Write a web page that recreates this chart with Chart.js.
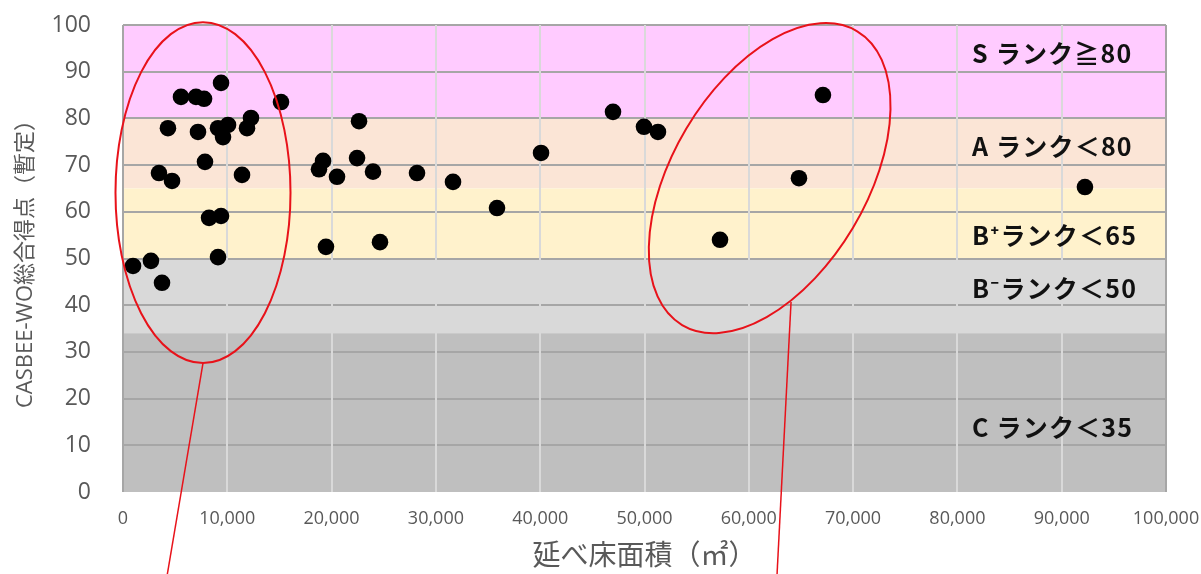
<!DOCTYPE html>
<html>
<head>
<meta charset="utf-8">
<script src="https://cdn.jsdelivr.net/npm/chart.js@4/dist/chart.umd.min.js"></script>
<style>
html,body{margin:0;padding:0;background:#fff;}
#wrap{width:1201px;height:574px;position:relative;}
</style>
</head>
<body>
<div id="wrap"><canvas id="c"></canvas></div>
<script>
// ---- data ----
const floorArea = [9400, 5560, 7000, 7770, 15150, 4310, 7190, 9110, 10070, 9590, 12270, 11890, 7860, 3450, 4700, 11410, 8250, 9400, 9110, 960, 2680, 3740,
  22630, 19180, 18790, 20520, 22440, 23970, 28190, 31640, 19460, 24640, 35860, 40080, 46980, 49950, 51290,
  67110, 64810, 57240, 92230];
const totalScore = [87.6, 84.6, 84.6, 84.2, 83.5, 77.9, 77.1, 77.9, 78.6, 76.0, 80.1, 77.9, 70.7, 68.3, 66.6, 67.9, 58.7, 59.1, 50.3, 48.4, 49.5, 44.8,
  79.4, 70.9, 69.1, 67.5, 71.5, 68.6, 68.3, 66.4, 52.5, 53.5, 60.8, 72.6, 81.4, 78.2, 77.1,
  85.0, 67.2, 54.0, 65.3];
const xTickValues = [0, 10000, 20000, 30000, 40000, 50000, 60000, 70000, 80000, 90000, 100000];
const yTickValues = [0, 10, 20, 30, 40, 50, 60, 70, 80, 90, 100];
const rankLabels = ['S ランク≧80', 'A ランク＜80', 'B⁺ランク＜65', 'B⁻ランク＜50', 'C ランク＜35'];
const rankLower = [80, 65, 50, 34, 0];
const rankUpper = [100, 80, 65, 50, 34];
const xTitle = '延べ床面積（㎡）';
const yTitle = 'CASBEE-WO総合得点（暫定）';

// ---- styles / annotation placement (not data) ----
const rankColors = ['#FFCBFF', '#FBE5D6', '#FFF2CC', '#D9D9D9', '#BFBFBF'];
const rankLabelPos = [[81400, 94.0], [81400, 73.9], [81400, 55.0], [81400, 43.6], [81400, 13.9]];
const circleA = {cx: 7670, cy: 64.1, rx: 8390, ry: 36.5};
const circleBpx = {cx: 62000, cy: 67.2, a: 171, b: 97, rot: -59.2};
const leaders = [[7670, 27.6, 4220, -18], [64050, 40.7, 62700, -18]];

const bandPlugin = {
  id: 'bands',
  beforeDraw(chart) {
    const {ctx, chartArea: a, scales: {y}} = chart;
    ctx.save();
    for (let i = 0; i < rankLower.length; i++) {
      const top = y.getPixelForValue(rankUpper[i]);
      const bot = y.getPixelForValue(rankLower[i]);
      ctx.fillStyle = rankColors[i];
      ctx.fillRect(a.left, top, a.right - a.left, bot - top);
    }
    ctx.restore();
  },
  beforeDatasetsDraw(chart) {
    const {ctx, scales: {x, y}} = chart;
    ctx.save();
    ctx.fillStyle = '#111';
    ctx.font = 'bold 25px "Noto Sans CJK JP", "Noto Sans", sans-serif';
    ctx.textBaseline = 'middle';
    ctx.textAlign = 'left';
    try { ctx.letterSpacing = '1.2px'; } catch (e) {}
    for (let i = 0; i < rankLabels.length; i++) {
      ctx.fillText(rankLabels[i], x.getPixelForValue(rankLabelPos[i][0]), y.getPixelForValue(rankLabelPos[i][1]));
    }
    ctx.restore();
  },
  afterDraw(chart) {
    const {ctx, scales: {x, y}} = chart;
    ctx.save();
    ctx.strokeStyle = '#E8121A';
    ctx.lineWidth = 2;
    const c1x = x.getPixelForValue(circleA.cx), c1y = y.getPixelForValue(circleA.cy);
    const r1x = x.getPixelForValue(circleA.cx + circleA.rx) - c1x;
    const r1y = c1y - y.getPixelForValue(circleA.cy + circleA.ry);
    ctx.beginPath();
    ctx.ellipse(c1x, c1y, r1x, r1y, 0, 0, Math.PI * 2);
    ctx.stroke();
    const c2x = x.getPixelForValue(circleBpx.cx), c2y = y.getPixelForValue(circleBpx.cy);
    ctx.beginPath();
    ctx.ellipse(c2x, c2y, circleBpx.a, circleBpx.b, circleBpx.rot * Math.PI / 180, 0, Math.PI * 2);
    ctx.stroke();
    ctx.lineWidth = 1.5;
    leaders.forEach(l => {
      ctx.beginPath();
      ctx.moveTo(x.getPixelForValue(l[0]), y.getPixelForValue(l[1]));
      ctx.lineTo(x.getPixelForValue(l[2]), y.getPixelForValue(l[3]));
      ctx.stroke();
    });
    ctx.restore();
  }
};

const points = floorArea.map((v, i) => ({x: v, y: totalScore[i]}));

new Chart(document.getElementById('c'), {
  type: 'scatter',
  data: {
    datasets: [{
      data: points,
      backgroundColor: '#000',
      borderColor: '#000',
      borderWidth: 0,
      pointRadius: 8.3,
      pointHoverRadius: 8.3
    }]
  },
  options: {
    responsive: true,
    maintainAspectRatio: false,
    animation: false,
    events: [],
    layout: {padding: {left: 0, right: 35, top: 25, bottom: 0}},
    plugins: {legend: {display: false}, tooltip: {enabled: false}},
    scales: {
      x: {
        type: 'linear',
        min: 0, max: 100000,
        afterBuildTicks: s => { s.ticks = xTickValues.map(v => ({value: v})); },
        afterFit: s => { s.height = 82; s.paddingLeft = 0; s.paddingRight = 0; },
        ticks: {
          color: '#595959',
          font: {family: '"Open Sans", "Noto Sans CJK JP", sans-serif', size: 18},
          padding: 16,
          maxRotation: 0,
          autoSkip: false,
          callback: v => v.toLocaleString('en-US')
        },
        grid: {
          z: -1,
          drawTicks: false,
          lineWidth: 2,
          color: c => (c.tick && (c.tick.value === 0 || c.tick.value === 100000)) ? '#A6A6A6' : '#D9D9D9'
        },
        border: {display: false},
        title: {
          display: true,
          text: xTitle,
          color: '#595959',
          font: {family: '"Noto Sans CJK JP", sans-serif', size: 28},
          padding: {top: 0, bottom: 3}
        }
      },
      y: {
        type: 'linear',
        min: 0, max: 100,
        afterBuildTicks: s => { s.ticks = yTickValues.map(v => ({value: v})); },
        afterFit: s => { s.width = 123; s.paddingTop = 0; s.paddingBottom = 0; },
        ticks: {
          color: '#595959',
          font: {family: '"Open Sans", "Noto Sans CJK JP", sans-serif', size: 23},
          padding: 32
        },
        grid: {
          z: -2,
          drawTicks: false,
          lineWidth: 2,
          color: c => (c.tick && c.tick.value === 0) ? 'rgba(0,0,0,0)' : '#A6A6A6'
        },
        border: {display: false},
        title: {
          display: true,
          text: yTitle,
          color: '#595959',
          font: {family: '"Open Sans", "Noto Sans CJK JP", sans-serif', size: 22},
          padding: {top: 13, bottom: 0}
        }
      }
    }
  },
  plugins: [bandPlugin]
});
</script>
</body>
</html>
